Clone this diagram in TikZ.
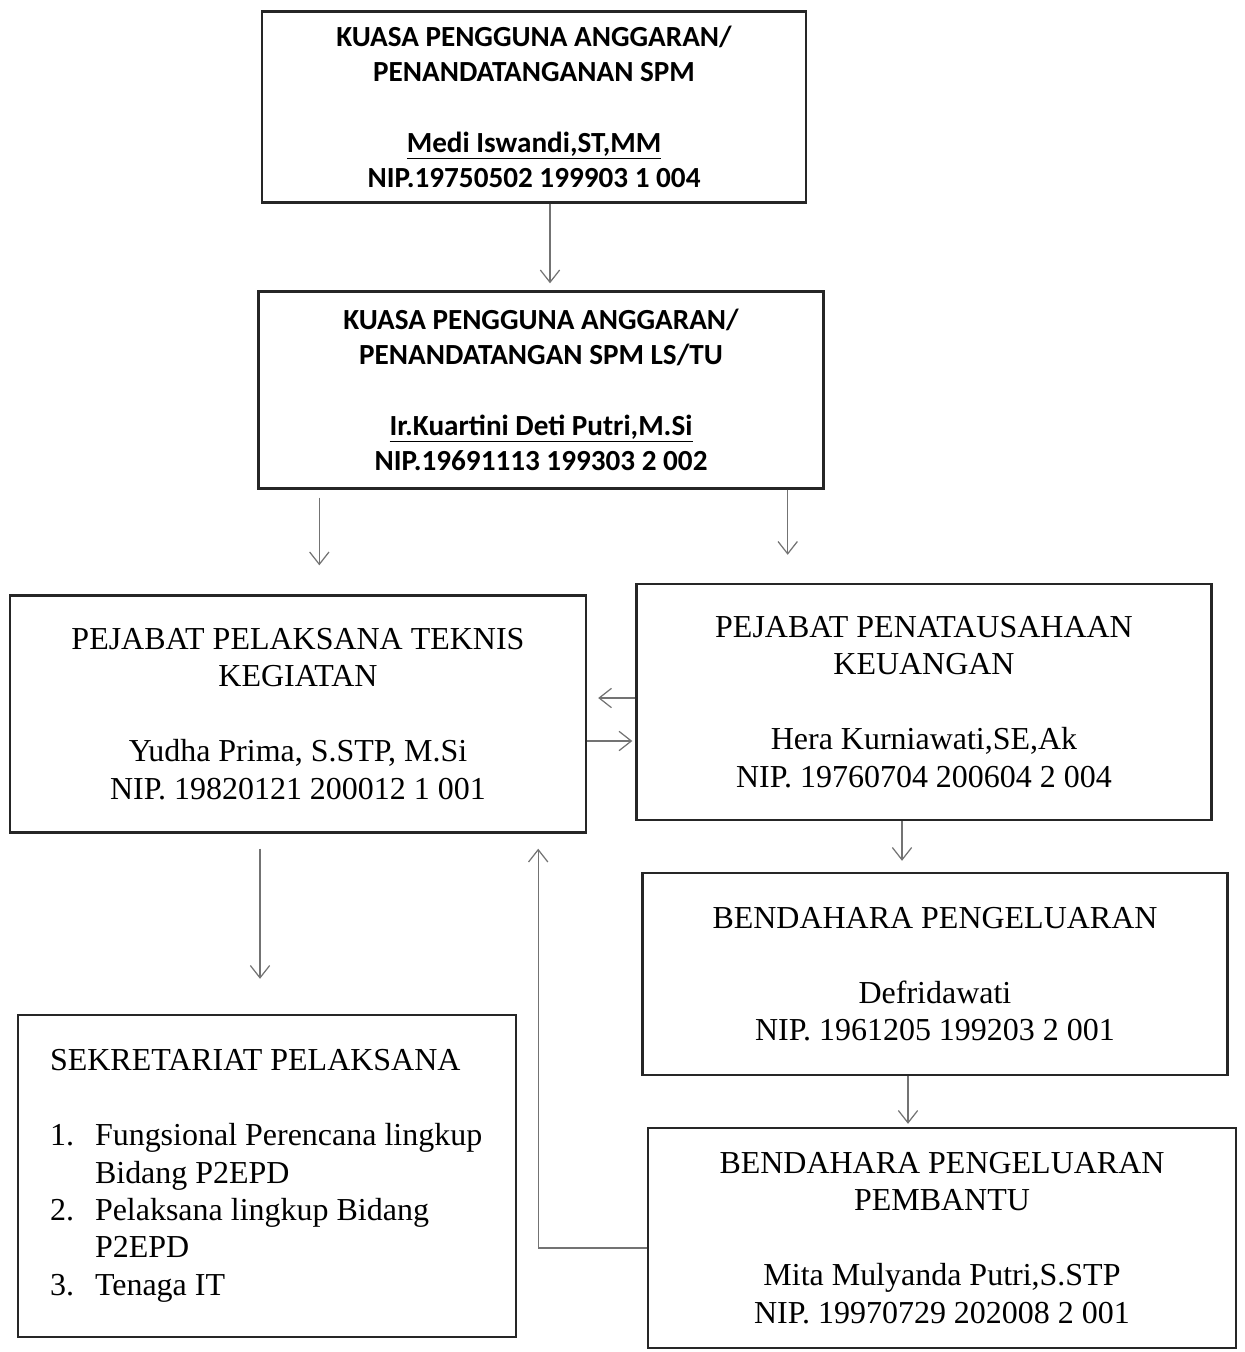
\documentclass[tikz,border=0pt]{standalone}
\usepackage{fontspec}
\setmainfont{Liberation Serif}
\newfontfamily\calibrifont{Carlito}
\usepackage{tikz}
\usetikzlibrary{arrows.meta}
\tikzset{every node/.style={align=center}}
\tikzset{
  box/.style={draw=black!85, line width=1.4pt, inner sep=0pt, font=\fontsize{18.2}{21.3}\selectfont},
  topbox/.style={box, font=\calibrifont\bfseries\fontsize{16.6}{20}\selectfont},
  arr/.style={-{Straight Barb[length=7pt,width=11pt]}, draw=black!55, line width=0.7pt}
}

\begin{document}
\begin{tikzpicture}[x=0.02cm,y=-0.02cm]
        % \draw[help lines,step=100] (0,0) grid (1244,1352);
        \useasboundingbox (0,0) rectangle (1244,1352);

        \node[topbox, minimum width=10.88cm, minimum height=3.82cm] (kpa) at (534,107)
            {KUASA PENGGUNA ANGGARAN/\\PENANDATANGANAN SPM\\[20pt]\underline{Medi Iswandi,ST,MM}\\NIP.19750502 199903 1 004};
        \node[topbox, minimum width=11.3cm, minimum height=3.94cm] (kpa2) at (541,390)
            {KUASA PENGGUNA ANGGARAN/\\PENANDATANGAN SPM LS/TU\\[20pt]\underline{Ir.Kuartini Deti Putri,M.Si}\\NIP.19691113 199303 2 002};
        \node[box, minimum width=11.52cm, minimum height=4.74cm] (pptk) at (298,714)
            {PEJABAT PELAKSANA TEKNIS\\KEGIATAN\\[21.3pt]Yudha Prima, S.STP, M.Si\\NIP. 19820121 200012 1 001};
        \node[box, minimum width=11.5cm, minimum height=4.72cm] (ppk) at (924,702)
            {PEJABAT PENATAUSAHAAN\\KEUANGAN\\[21.3pt]Hera Kurniawati,SE,Ak\\NIP. 19760704 200604 2 004};
        \node[box, minimum width=11.7cm, minimum height=4.04cm] (bend) at (935,974)
            {BENDAHARA PENGELUARAN\\[21.3pt]Defridawati\\NIP. 1961205 199203 2 001};
        \node[box, minimum width=11.76cm, minimum height=4.4cm] (bpp) at (942,1238)
            {BENDAHARA PENGELUARAN\\PEMBANTU\\[21.3pt]Mita Mulyanda Putri,S.STP\\NIP. 19970729 202008 2 001};
        \node[box, minimum width=9.96cm, minimum height=6.44cm, text width=8.68cm, align=flush left] (sekr) at (267,1176)
            {SEKRETARIAT PELAKSANA\\[21.3pt]
             \makebox[0.9cm][l]{1.}Fungsional Perencana lingkup\\
             \hspace*{0.9cm}Bidang P2EPD\\
             \makebox[0.9cm][l]{2.}Pelaksana lingkup Bidang\\
             \hspace*{0.9cm}P2EPD\\
             \makebox[0.9cm][l]{3.}Tenaga IT};

        % KPA to KPA LS/TU
        \draw[arr, shorten >=0.14cm] ([xshift=0.32cm]kpa.south) -- ([xshift=0.32cm]kpa.south |- kpa2.north);

        % KPA LS/TU to PPTK and PPK
        \draw[arr, shorten <=0.16cm, shorten >=0.58cm] ([xshift=1.24cm]kpa2.south west) -- ([xshift=1.24cm]kpa2.south west |- pptk.north);
        \draw[arr, shorten >=0.56cm] ([xshift=-0.74cm]kpa2.south east) -- ([xshift=-0.74cm]kpa2.south east |- ppk.north);

        % PPK <-> PPTK
        \draw[arr, shorten >=0.22cm] ([yshift=0.08cm]ppk.west) -- ([yshift=0.08cm]ppk.west -| pptk.east);
        \draw[arr, shorten >=0.06cm] ([yshift=-0.54cm]pptk.east) -- ([yshift=-0.54cm]pptk.east -| ppk.west);

        % PPK to bendahara
        \draw[arr, shorten >=0.22cm] ([xshift=-0.44cm]ppk.south) -- ([xshift=-0.44cm]ppk.south |- bend.north);
        \draw[arr, shorten >=0.06cm] ([xshift=-0.54cm]bend.south) -- ([xshift=-0.54cm]bend.south |- bpp.north);

        % PPTK to sekretariat
        \draw[arr, shorten <=0.3cm, shorten >=0.7cm] ([xshift=-0.76cm]pptk.south) -- ([xshift=-0.76cm]pptk.south |- sekr.north);

        % pembantu back to PPTK
        \draw[arr, shorten >=0.3cm] ([yshift=-0.2cm]bpp.west) -| ([xshift=-0.98cm]pptk.south east);

    \end{tikzpicture}
\end{document}
